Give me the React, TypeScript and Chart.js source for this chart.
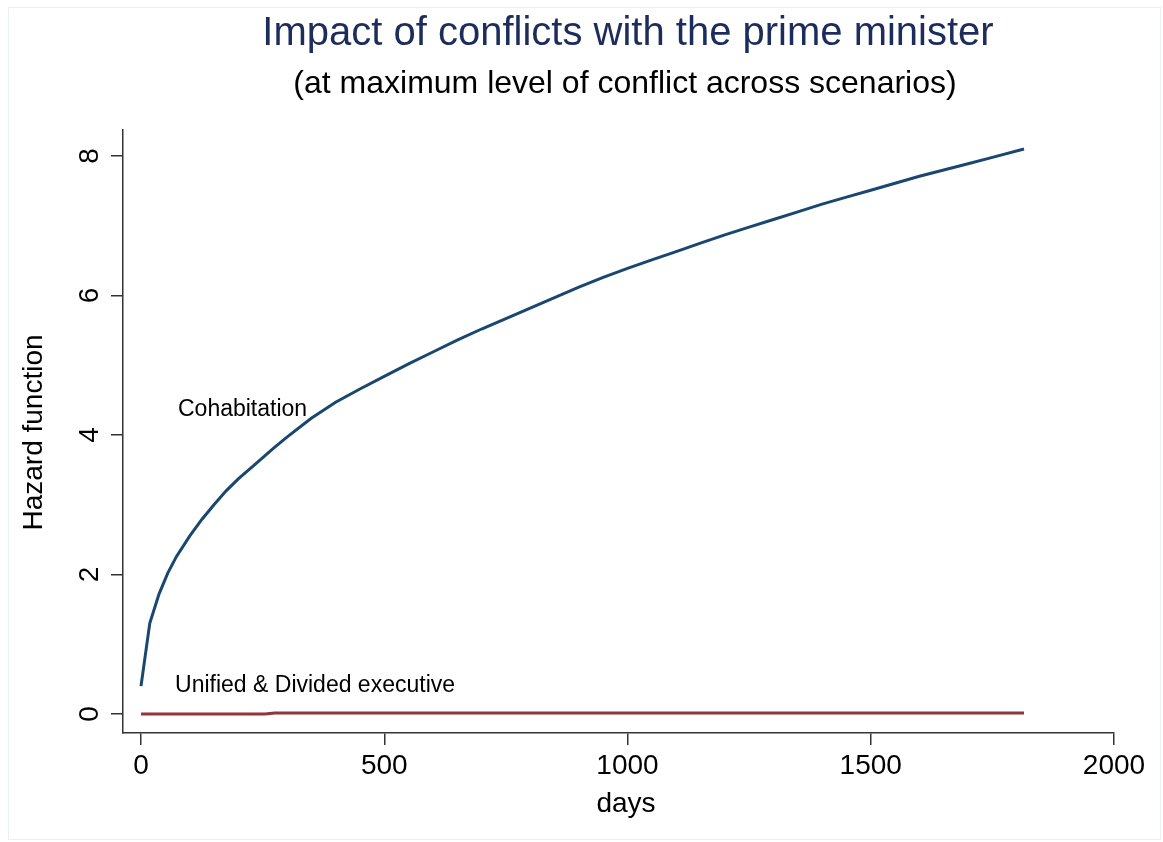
import React, { useEffect, useRef } from "react";
import { Chart, registerables } from "chart.js";

Chart.register(...registerables);

// ---- data ----
const cohabitationDays = [0, 18, 37, 55, 73, 100, 125, 150, 175, 200, 238, 272, 300, 350, 400, 450, 500, 550, 600, 650, 700, 750, 800, 850, 900, 950, 1000, 1050, 1100, 1150, 1200, 1250, 1300, 1350, 1400, 1450, 1500, 1550, 1600, 1650, 1700, 1750, 1815];
const cohabitationHazard = [0.40, 1.30, 1.72, 2.02, 2.26, 2.55, 2.79, 3.00, 3.20, 3.37, 3.60, 3.81, 3.97, 4.24, 4.47, 4.66, 4.84, 5.02, 5.19, 5.36, 5.52, 5.67, 5.82, 5.97, 6.12, 6.26, 6.39, 6.51, 6.63, 6.75, 6.87, 6.98, 7.09, 7.20, 7.31, 7.41, 7.51, 7.61, 7.71, 7.80, 7.89, 7.98, 8.10];
const unifiedDays = [0, 255, 275, 1815];
const unifiedHazard = [0.0, 0.0, 0.015, 0.015];

const xTickValues = [0, 500, 1000, 1500, 2000];
const yTickValues = [0, 2, 4, 6, 8];

const titleText = "Impact of conflicts with the prime minister";
const subtitleText = "(at maximum level of conflict across scenarios)";
const xTitleText = "days";
const yTitleText = "Hazard function";

const labelTexts = ["Cohabitation", "Unified & Divided executive"];
const labelDays = [76, 70];
const labelValues = [4.27, 0.315];

const FONT = "'Liberation Sans', Arial, Helvetica, sans-serif";
const AXIS_COLOR = "#333333";

const decorPlugin = {
  id: "decor",
  beforeDraw(chart: any) {
    const ctx = chart.ctx;
    ctx.save();
    ctx.fillStyle = "#ffffff";
    ctx.fillRect(0, 0, chart.width, chart.height);
    ctx.strokeStyle = "#eaf0f2";
    ctx.lineWidth = 1;
    ctx.strokeRect(8.5, 7.5, 1152, 832);
    ctx.restore();
  },
  afterDraw(chart: any) {
    const ctx = chart.ctx;
    const xs = chart.scales.x;
    const ys = chart.scales.y;
    ctx.save();
    // titles
    ctx.textAlign = "center";
    ctx.textBaseline = "alphabetic";
    ctx.fillStyle = "#1c2d5c";
    ctx.font = `40px ${FONT}`;
    ctx.fillText(titleText, 628, 45);
    ctx.fillStyle = "#000000";
    ctx.font = `32px ${FONT}`;
    ctx.fillText(subtitleText, 625, 93);

    // y tick labels (rotated)
    ctx.font = `28px ${FONT}`;
    ctx.fillStyle = "#000000";
    yTickValues.forEach((v) => {
      const py = ys.getPixelForValue(v);
      ctx.save();
      ctx.translate(98, py);
      ctx.rotate(-Math.PI / 2);
      ctx.textAlign = "center";
      ctx.textBaseline = "alphabetic";
      ctx.fillText(String(v), 0, 0);
      ctx.restore();
    });

    // y title
    ctx.save();
    ctx.translate(42, (chart.chartArea.top + chart.chartArea.bottom) / 2 + 1);
    ctx.rotate(-Math.PI / 2);
    ctx.textAlign = "center";
    ctx.textBaseline = "alphabetic";
    ctx.font = `28px ${FONT}`;
    ctx.fillText(yTitleText, 0, 0);
    ctx.restore();

    // x title
    ctx.textAlign = "center";
    ctx.textBaseline = "alphabetic";
    ctx.font = `28px ${FONT}`;
    ctx.fillText(xTitleText, 626, 812);

    // in-plot labels
    ctx.textAlign = "left";
    ctx.font = `23px ${FONT}`;
    labelTexts.forEach((t, i) => {
      ctx.fillText(t, xs.getPixelForValue(labelDays[i]), ys.getPixelForValue(labelValues[i]));
    });
    ctx.restore();
  },
};

export default function App() {
  const ref = useRef<HTMLCanvasElement | null>(null);

  useEffect(() => {
    if (!ref.current) return;
    const chart = new Chart(ref.current, {
      type: "line",
      data: {
        datasets: [
          {
            label: "Cohabitation",
            data: cohabitationDays.map((d, i) => ({ x: d, y: cohabitationHazard[i] })),
            borderColor: "#1a476f",
            borderWidth: 3,
            pointRadius: 0,
            fill: false,
            tension: 0,
          },
          {
            label: "Unified & Divided executive",
            data: unifiedDays.map((d, i) => ({ x: d, y: unifiedHazard[i] })),
            borderColor: "#90353b",
            borderWidth: 3,
            pointRadius: 0,
            fill: false,
            tension: 0,
          },
        ],
      },
      options: {
        responsive: false,
        animation: false,
        devicePixelRatio: 1,
        layout: { padding: { top: 130, right: 49, left: 0, bottom: 0 } },
        plugins: {
          legend: { display: false },
          tooltip: { enabled: false },
          title: { display: false },
        },
        scales: {
          x: {
            type: "linear",
            min: -37,
            max: 2000,
            afterBuildTicks: (s: any) => {
              s.ticks = xTickValues.map((v) => ({ value: v }));
            },
            afterFit: (s: any) => {
              s.height = 109;
            },
            ticks: {
              font: { family: FONT, size: 28 },
              color: "#000000",
              padding: 4,
              maxRotation: 0,
              minRotation: 0,
              autoSkip: false,
              callback: (v: any) => String(v),
            },
            grid: {
              display: true,
              drawOnChartArea: false,
              drawTicks: true,
              tickLength: 12,
              color: AXIS_COLOR,
              lineWidth: 1.5,
            },
            border: { display: true, color: AXIS_COLOR, width: 1.5 },
          },
          y: {
            type: "linear",
            min: -0.272,
            max: 8.373,
            afterBuildTicks: (s: any) => {
              s.ticks = yTickValues.map((v) => ({ value: v }));
            },
            afterFit: (s: any) => {
              s.width = 123;
            },
            ticks: { display: false },
            grid: {
              display: true,
              drawOnChartArea: false,
              drawTicks: true,
              tickLength: 12,
              color: AXIS_COLOR,
              lineWidth: 1.5,
            },
            border: { display: true, color: AXIS_COLOR, width: 1.5 },
          },
        },
      } as any,
      plugins: [decorPlugin],
    });
    return () => chart.destroy();
  }, []);

  return (
    <div style={{ position: "absolute", left: 0, top: 0, width: 1163, height: 842, background: "#fff" }}>
      <canvas ref={ref} width={1163} height={842} style={{ display: "block" }} />
    </div>
  );
}
